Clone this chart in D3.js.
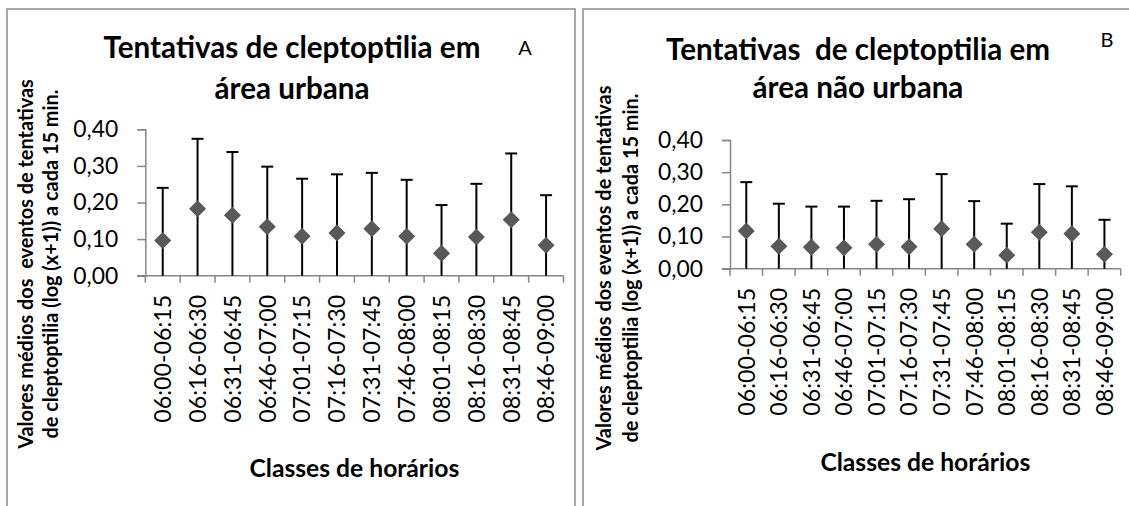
<!DOCTYPE html>
<html>
<head>
<meta charset="utf-8">
<script src="https://cdn.jsdelivr.net/npm/d3@7"></script>
<style>
  body { margin: 0; background: #fff; }
  text { font-family: Lato, "Open Sans", sans-serif; fill: #000; white-space: pre; }
</style>
</head>
<body>
<script>
// classes de horarios (15 min)
const categories = ['06:00-06:15', '06:16-06:30', '06:31-06:45', '06:46-07:00',
  '07:01-07:15', '07:16-07:30', '07:31-07:45', '07:46-08:00',
  '08:01-08:15', '08:16-08:30', '08:31-08:45', '08:46-09:00'];

// area urbana: media e desvio (log(x+1))
const urbanMean = [0.096, 0.183, 0.165, 0.134, 0.108, 0.117, 0.128, 0.108, 0.061, 0.106, 0.153, 0.083];
const urbanError = [0.144, 0.191, 0.173, 0.164, 0.157, 0.160, 0.153, 0.154, 0.132, 0.145, 0.181, 0.137];

// area nao urbana
const ruralMean = [0.117, 0.070, 0.067, 0.065, 0.076, 0.068, 0.124, 0.076, 0.042, 0.113, 0.109, 0.045];
const ruralError = [0.152, 0.132, 0.126, 0.128, 0.135, 0.148, 0.170, 0.134, 0.098, 0.150, 0.147, 0.107];

const yTicks = [0, 0.1, 0.2, 0.3, 0.4];

const width = 1129;
const height = 506;

const ptBR = d3.formatLocale({ decimal: ',', thousands: '.', grouping: [3], currency: ['R$', ''] });
const fmt = ptBR.format('.2f');

const svg = d3.select('body')
  .append('svg')
  .attr('width', width)
  .attr('height', height);

svg.append('rect')
  .attr('width', width)
  .attr('height', height)
  .attr('fill', '#fff');

// font size that makes a string run to a given length (the original uses Calibri)
function fitSize(str, weight, target) {
  const t = svg.append('text')
    .attr('font-size', 100)
    .attr('font-weight', weight)
    .text(str);
  const len = t.node().getComputedTextLength();
  t.remove();
  return 100 * target / len;
}

const fsTitle = fitSize('Tentativas de cleptoptilia em', 'bold', 377);
const fsTick = fitSize('0,40', 'normal', 45);
const fsCat = fitSize('06:00-06:15', 'normal', 128);
const fsXTitle = fitSize('Classes de horários', 'bold', 210);
const fsYTitle = fitSize('Valores médios dos  eventos de tentativas', 'bold', 370);

function drawPanel({
  mean, error, frame, xRange, yRange,
  title, titleX, titleY, letter, letterX, letterY,
  yTitle, yTitleX, yTitleY, xTitleY,
}) {
  const g = svg.append('g');

  g.append('rect')
    .attr('x', frame[0])
    .attr('y', frame[1])
    .attr('width', frame[2])
    .attr('height', frame[3])
    .attr('fill', 'none')
    .attr('stroke', '#8c8c8c')
    .attr('stroke-width', 1.5);

  const x = d3.scaleBand()
    .domain(categories)
    .range(xRange);

  const y = d3.scaleLinear()
    .domain([0, 0.4])
    .range(yRange);

  // eixo y
  const yAxis = g.append('g')
    .attr('transform', `translate(${xRange[0]},0)`)
    .call(d3.axisLeft(y).tickValues(yTicks).tickFormat(fmt).tickSize(8).tickPadding(19));
  yAxis.select('.domain').attr('stroke', '#868686').attr('stroke-width', 1.5);
  yAxis.selectAll('.tick line').attr('stroke', '#868686').attr('stroke-width', 1.5);
  yAxis.selectAll('.tick text')
    .attr('font-size', fsTick)
    .attr('font-family', 'Lato, sans-serif')
    .attr('fill', '#000');

  // eixo x
  const xAxisG = g.append('g')
    .attr('transform', `translate(0,${yRange[0]})`);
  xAxisG.append('line')
    .attr('x1', xRange[0] - 8)
    .attr('x2', xRange[1])
    .attr('stroke', '#868686')
    .attr('stroke-width', 1.5);
  xAxisG.selectAll('line.tk')
    .data(d3.range(categories.length + 1))
    .join('line')
    .attr('class', 'tk')
    .attr('x1', i => xRange[0] + i * x.step())
    .attr('x2', i => xRange[0] + i * x.step())
    .attr('y1', 0)
    .attr('y2', 7)
    .attr('stroke', '#868686')
    .attr('stroke-width', 1.5);
  xAxisG.selectAll('text')
    .data(categories)
    .join('text')
    .attr('transform', d => `translate(${x(d) + x.bandwidth() / 2 + fsCat * 0.36},19) rotate(-90)`)
    .attr('text-anchor', 'end')
    .attr('font-size', fsCat)
    .text(d => d);

  // barras de erro
  const bars = g.append('g');
  categories.forEach((c, i) => {
    const cx = x(c) + x.bandwidth() / 2;
    const lo = Math.max(0, mean[i] - error[i]);
    const hi = mean[i] + error[i];
    bars.append('line')
      .attr('x1', cx).attr('x2', cx)
      .attr('y1', y(lo)).attr('y2', y(hi))
      .attr('stroke', '#000').attr('stroke-width', 2);
    bars.append('line')
      .attr('x1', cx - 6).attr('x2', cx + 6)
      .attr('y1', y(hi)).attr('y2', y(hi))
      .attr('stroke', '#000').attr('stroke-width', 2);
  });

  // pontos (losangos)
  g.append('g')
    .selectAll('path')
    .data(mean)
    .join('path')
    .attr('d', d3.symbol(d3.symbolDiamond2, 185))
    .attr('transform', (d, i) => `translate(${x(categories[i]) + x.bandwidth() / 2},${y(d)})`)
    .attr('fill', '#595959');

  // titulo
  g.append('text')
    .attr('text-anchor', 'middle')
    .attr('font-size', fsTitle)
    .attr('font-weight', 'bold')
    .selectAll('tspan')
    .data(title)
    .join('tspan')
    .attr('x', titleX)
    .attr('y', (d, i) => titleY[i])
    .text(d => d);

  g.append('text')
    .attr('x', letterX)
    .attr('y', letterY)
    .attr('text-anchor', 'middle')
    .attr('font-size', 20)
    .text(letter);

  // titulo eixo y
  yTitle.forEach((t, i) => {
    g.append('text')
      .attr('transform', `translate(${yTitleX[i]},${yTitleY}) rotate(-90)`)
      .attr('text-anchor', 'middle')
      .attr('font-size', fsYTitle)
      .attr('font-weight', 'bold')
      .text(t);
  });

  // titulo eixo x
  g.append('text')
    .attr('x', (xRange[0] + xRange[1]) / 2)
    .attr('y', xTitleY)
    .attr('text-anchor', 'middle')
    .attr('font-size', fsXTitle)
    .attr('font-weight', 'bold')
    .text('Classes de horários');
}

drawPanel({
  mean: urbanMean,
  error: urbanError,
  frame: [7, 9, 568, 510],
  xRange: [145.3, 563.5],
  yRange: [275.7, 129.3],
  title: ['Tentativas de cleptoptilia em', 'área urbana'],
  titleX: 292,
  titleY: [58, 99],
  letter: 'A',
  letterX: 525,
  letterY: 55,
  yTitle: ['Valores médios dos  eventos de tentativas', 'de cleptoptilia (log (x+1)) a cada 15 min.'],
  yTitleX: [33, 58],
  yTitleY: 264,
  xTitleY: 477,
});

drawPanel({
  mean: ruralMean,
  error: ruralError,
  frame: [583, 9, 560, 510],
  xRange: [730, 1120.7],
  yRange: [268.7, 140],
  title: ['Tentativas  de cleptoptilia em', 'área não urbana'],
  titleX: 858,
  titleY: [60, 98],
  letter: 'B',
  letterX: 1107,
  letterY: 47,
  yTitle: ['Valores médios dos eventos de tentativas', 'de cleptoptilia (log (x+1)) a cada 15 min.'],
  yTitleX: [611, 638],
  yTitleY: 268,
  xTitleY: 471,
});
</script>
</body>
</html>
